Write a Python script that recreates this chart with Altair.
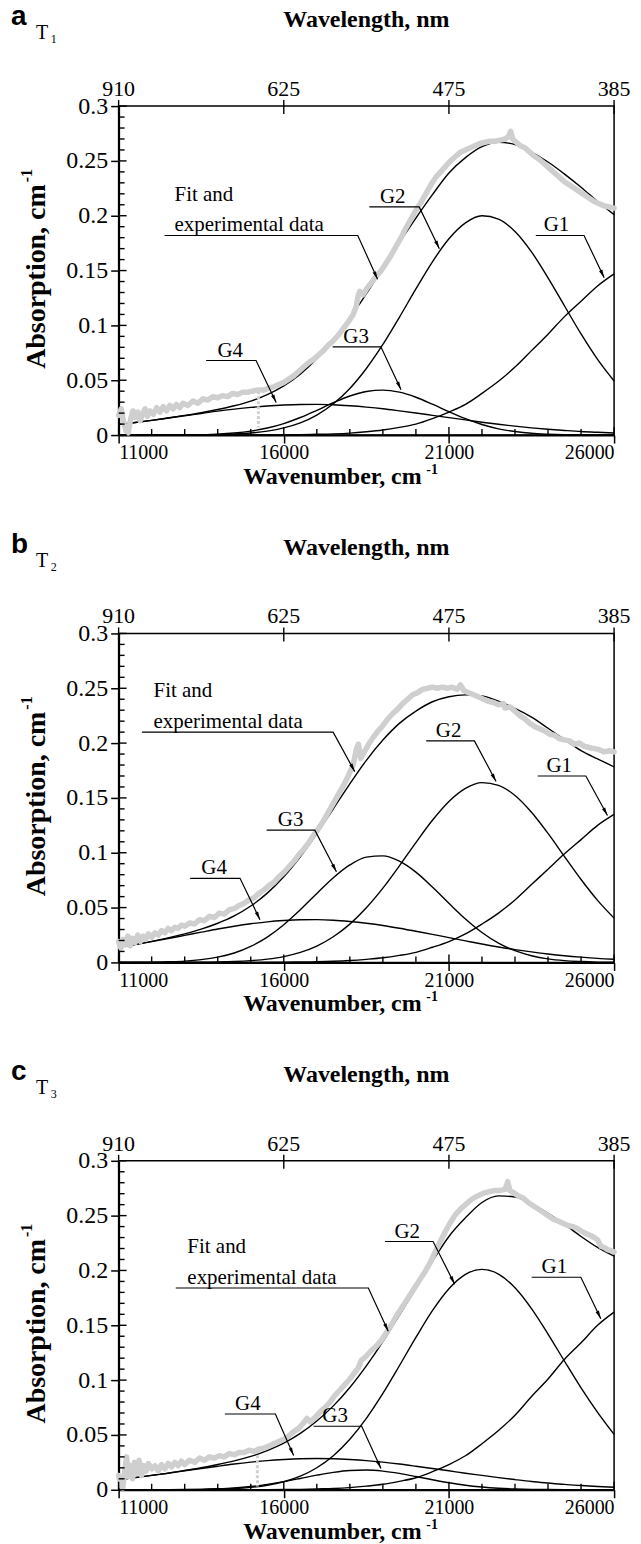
import math

import altair as alt
import pandas as pd

# Wavenumber grid (cm-1) on which the Gaussian components and the fitted envelope are tabulated
WAVENUMBER = [11000, 11500, 12000, 12500, 13000, 13500, 14000, 14500, 15000, 15500,
              16000, 16500, 17000, 17500, 18000, 18500, 19000, 19500, 20000, 20500,
              21000, 21500, 22000, 22500, 23000, 23500, 24000, 24500, 25000, 25500, 26000]

# ---------------- panel a : T1 ----------------
A_G1 = [0, 0, 0, 0, 0, 0, 0, 0, 0, .0001, .0002, .0004, .0007, .0011, .0018, .003,
        .0046, .007, .010, .015, .021, .028, .038, .049, .062, .077, .092, .108, .122, .136, .147]
A_G2 = [0, 0, 0, 0, .0001, .0002, .0005, .001, .0019, .0036, .0065, .0111, .0182, .0285,
        .0425, .0607, .0826, .1074, .1333, .158, .179, .1935, .200, .197, .1856, .167, .1434,
        .1177, .0922, .069, .0493]
A_G3 = [0, 0, 0, .0001, .0002, .0004, .0009, .0019, .0036, .0064, .0105, .016, .0226, .0295,
        .0356, .0397, .041, .0391, .0345, .0282, .0213, .0149, .0096, .0057, .0032, .0016,
        .0008, .0003, .0001, 0, 0]
A_G4 = [.0095, .0114, .0134, .0155, .0176, .0197, .0218, .0236, .0252, .0265, .0274, .0279,
        .028, .0276, .0267, .0255, .024, .0221, .0201, .018, .0159, .0138, .0117, .0098, .0081,
        .0066, .0053, .0042, .0032, .0025, .0019]
A_FIT = [.0095, .0114, .0134, .0156, .0179, .0204, .0233, .0267, .031, .0369, .0449, .0556,
         .0695, .0867, .1066, .1289, .1522, .1756, .1979, .2192, .239, .253, .263, .267, .265,
         .258, .249, .238, .226, .213, .201]
A_MEASURED = [
    (11000, .018), (11080, .024), (11150, .012), (11220, .004), (11290, .002), (11360, .014),
    (11430, .022), (11500, .016), (11580, .021), (11650, .013), (11720, .019), (11800, .024),
    (11870, .017), (11950, .022), (12050, .019), (12150, .025), (12250, .021), (12350, .026),
    (12450, .022), (12550, .027), (12650, .024), (12750, .028), (12850, .025), (12950, .029),
    (13100, .027), (13250, .031), (13400, .029), (13550, .033), (13700, .032), (13850, .035),
    (14000, .034), (14150, .036), (14300, .035), (14450, .038), (14600, .037), (14750, .039),
    (14900, .039), (15050, .040), (15200, .041), (15400, .041),
    (15550, .043), (15700, .044), (15850, .046), (16000, .048), (16150, .051), (16300, .054),
    (16450, .058), (16600, .062), (16750, .066), (16900, .069), (17050, .073), (17200, .077),
    (17350, .082), (17500, .086), (17650, .091), (17800, .097), (17950, .103), (18100, .110),
    (18200, .118), (18250, .127), (18300, .131), (18400, .128), (18500, .133), (18650, .139),
    (18800, .145), (18950, .150), (19100, .157), (19250, .164), (19400, .172), (19550, .180),
    (19700, .189), (19850, .197), (20000, .205), (20150, .212), (20300, .220), (20450, .228),
    (20600, .235), (20750, .240), (20900, .245), (21050, .250), (21200, .254), (21350, .258),
    (21500, .260), (21650, .262), (21800, .264), (21950, .266), (22100, .267), (22250, .268),
    (22400, .268), (22550, .269), (22700, .270), (22800, .272), (22870, .277), (22930, .270),
    (23000, .268), (23150, .264), (23300, .262), (23450, .258), (23600, .254), (23750, .251),
    (23900, .247), (24050, .243), (24200, .239), (24350, .235), (24500, .231), (24650, .228),
    (24800, .225), (24950, .222), (25100, .219), (25250, .216), (25400, .213), (25550, .211),
    (25700, .209), (25850, .208), (26000, .207)]
# isolated dropout in the recorded spectrum
A_DROPOUT = [(15230, .040), (15230, .007)]

# ---------------- panel b : T2 ----------------
B_G1 = [0, 0, 0, 0, 0, 0, 0, 0, 0, .0001, .0002, .0004, .0006, .001, .0017, .0028, .0042,
        .0064, .0092, .0138, .019, .026, .035, .045, .057, .071, .085, .099, .112, .125, .135]
B_G2 = [0, 0, 0, 0, .0001, .0002, .0004, .0008, .0016, .003, .0053, .0091, .0149, .0234,
        .0349, .0498, .0677, .0881, .1093, .1296, .1468, .1587, .164, .1615, .1522, .1369,
        .1176, .0965, .0756, .0566, .0404]
B_G3 = [0, .0001, .0002, .0006, .0012, .0025, .0048, .0086, .0146, .0231, .0344, .048, .0628,
        .0772, .0889, .096, .0972, .0923, .0823, .0687, .0539, .0396, .0273, .0176, .0107,
        .0061, .0032, .0016, .0008, .0003, .0001]
B_G4 = [.0139, .0163, .019, .0218, .0247, .0276, .0305, .033, .0352, .037, .0382, .0389, .039,
        .0385, .0373, .0357, .0337, .0312, .0284, .0256, .0226, .0197, .0168, .0141, .0117,
        .0096, .0077, .0061, .0048, .0037, .0029]
B_FIT = [.0139, .0164, .0192, .0224, .026, .0303, .0357, .0424, .0514, .0632, .0781, .0964,
         .1173, .1401, .1628, .1843, .2028, .218, .2292, .2377, .2423, .244, .2431, .2382,
         .2316, .2236, .2135, .2032, .1932, .1856, .1784]
B_MEASURED = [
    (11000, .019), (11070, .013), (11140, .021), (11210, .016), (11280, .024), (11350, .015),
    (11420, .022), (11500, .018), (11580, .025), (11660, .019), (11740, .024), (11820, .021),
    (11900, .026), (12000, .023), (12100, .027), (12200, .025), (12300, .029), (12400, .027),
    (12500, .031), (12600, .029), (12700, .032), (12800, .031), (12900, .034), (13000, .033),
    (13150, .036), (13300, .035), (13450, .039), (13600, .038), (13750, .042), (13900, .041),
    (14050, .045), (14200, .044), (14350, .048), (14500, .049), (14650, .052), (14800, .054),
    (14950, .057), (15100, .059), (15250, .063), (15400, .066), (15550, .070), (15700, .073),
    (15850, .078), (16000, .082), (16150, .087), (16300, .092), (16450, .098), (16600, .103),
    (16750, .109), (16900, .116), (17050, .122), (17200, .129), (17350, .137), (17500, .145),
    (17650, .153), (17800, .161), (17950, .170), (18100, .180), (18200, .195), (18260, .199),
    (18330, .186), (18400, .190), (18550, .198), (18700, .205), (18850, .211), (19000, .216),
    (19150, .222), (19300, .227), (19450, .231), (19600, .236), (19750, .240), (19900, .244),
    (20050, .246), (20200, .249), (20350, .250), (20500, .251), (20650, .250), (20800, .251),
    (20950, .250), (21100, .251), (21250, .249), (21350, .253), (21450, .248), (21600, .246),
    (21750, .244), (21900, .242), (22050, .240), (22200, .238), (22350, .237), (22500, .235),
    (22650, .236), (22700, .232), (22850, .233), (23000, .229), (23150, .225), (23300, .222),
    (23450, .218), (23600, .215), (23750, .213), (23900, .211), (24050, .208), (24200, .207),
    (24350, .204), (24500, .203), (24650, .202), (24800, .199), (24950, .200), (25100, .197),
    (25250, .196), (25400, .195), (25550, .194), (25700, .192), (25850, .193), (26000, .192)]
B_DROPOUT = []

# ---------------- panel c : T3 ----------------
C_G1 = [0, 0, 0, 0, 0, 0, 0, 0, 0, .0001, .0002, .0004, .0008, .0012, .002, .0033, .005,
        .0077, .011, .0165, .023, .031, .042, .054, .068, .085, .101, .119, .134, .150, .162]
C_G2 = [0, 0, 0, 0, .0001, .0003, .0006, .0011, .0022, .0041, .0073, .0124, .0201, .0311,
        .0461, .0651, .0878, .1131, .1389, .1633, .1833, .1964, .201, .1967, .1842, .1652,
        .1420, .1172, .0929, .0706, .0505]
C_G3 = [0, 0, 0, .0001, .0002, .0004, .0009, .0017, .003, .0049, .0074, .0103, .0133, .0159,
        .0176, .018, .017, .0149, .0121, .0091, .0064, .0041, .0025, .0014, .0007, .0003,
        .0002, .0001, 0, 0, 0]
C_G4 = [.0093, .0111, .0131, .0151, .0173, .0194, .0215, .0235, .0252, .0266, .0276, .0283,
        .0285, .0283, .0276, .0266, .0252, .0235, .0215, .0194, .0173, .0151, .0131, .0111,
        .0093, .0076, .0062, .0049, .0039, .003, .0023]
C_FIT = [.0093, .0111, .0131, .0152, .0176, .0201, .023, .0263, .0304, .0357, .0425, .0514,
         .0627, .0765, .0933, .113, .135, .1592, .1835, .2083, .231, .248, .262, .268, .267,
         .261, .252, .242, .231, .221, .213]
C_MEASURED = [
    (11000, .013), (11060, .005), (11120, .001), (11180, .016), (11240, .030), (11300, .012),
    (11360, .022), (11420, .010), (11480, .025), (11550, .015), (11620, .027), (11690, .013),
    (11760, .022), (11830, .017), (11900, .024), (12000, .019), (12100, .022), (12200, .017),
    (12300, .023), (12400, .019), (12500, .024), (12600, .021), (12700, .025), (12800, .022),
    (12900, .026), (13000, .023), (13150, .027), (13300, .025), (13450, .029), (13600, .027),
    (13750, .030), (13900, .029), (14050, .031), (14200, .030), (14350, .033), (14500, .032),
    (14650, .034), (14800, .034), (14950, .036), (15100, .035), (15170, .036),
    (15230, .037), (15400, .038), (15550, .040), (15700, .042), (15850, .044), (16000, .046),
    (16150, .049), (16300, .053), (16450, .056), (16600, .061), (16700, .065), (16800, .062),
    (16950, .066), (17100, .071), (17250, .075), (17400, .080), (17550, .086), (17700, .091),
    (17850, .096), (18000, .101), (18150, .107), (18250, .111), (18350, .118), (18500, .122),
    (18650, .127), (18800, .131), (18950, .136), (19100, .143), (19250, .150), (19400, .158),
    (19550, .165), (19700, .172), (19850, .179), (20000, .186), (20150, .193), (20300, .200),
    (20450, .208), (20600, .218), (20750, .227), (20900, .236), (21050, .244), (21200, .251),
    (21350, .256), (21500, .260), (21650, .264), (21800, .267), (21950, .269), (22100, .271),
    (22250, .272), (22400, .273), (22550, .273), (22700, .274), (22780, .281), (22840, .273),
    (22950, .271), (23100, .268), (23250, .266), (23400, .262), (23550, .259), (23700, .256),
    (23850, .253), (24000, .250), (24150, .247), (24300, .245), (24450, .243), (24600, .241),
    (24750, .240), (24900, .238), (25050, .235), (25200, .233), (25350, .231), (25500, .228),
    (25600, .222), (25700, .221), (25800, .219), (25900, .218), (26000, .217)]
C_DROPOUT = [(15200, .036), (15200, .003)]

# Axis ticks and labels
X_TICKS = [11000, 16000, 21000, 26000]
WAVELENGTH_LABELS = ["910", "625", "475", "385"]
X_MINOR = [12000, 13000, 14000, 15000, 17000, 18000, 19000, 20000, 22000, 23000, 24000, 25000]
Y_TICKS = [0, 0.05, 0.1, 0.15, 0.2, 0.25, 0.3]
Y_MINOR = [0.01, 0.02, 0.03, 0.04, 0.06, 0.07, 0.08, 0.09, 0.11, 0.12, 0.13, 0.14,
           0.16, 0.17, 0.18, 0.19, 0.21, 0.22, 0.23, 0.24, 0.26, 0.27, 0.28, 0.29]

# Call-outs: (label, label centre along wavenumber, leader polyline ending at the arrow tip)
A_CALLOUTS = [
    ("G1", 24256, [(23630, .182), (25090, .182), (25700, .1435)]),
    ("G2", 19300, [(18590, .208), (20100, .208), (20710, .170)]),
    ("G3", 18190, [(17480, .0805), (18940, .0805), (19550, .0414)]),
    ("G4", 14377, [(13650, .068), (15160, .068), (15770, .0296)]),
]
A_FIT_CALLOUT = (12694, [(12390, .182), (18240, .182), (18840, .142)])

B_CALLOUTS = [
    ("G1", 24340, [(23685, .170), (25145, .170), (25800, .134)]),
    ("G2", 20990, [(20312, .202), (21772, .202), (22427, .165)]),
    ("G3", 16205, [(15480, .1206), (16940, .1206), (17594, .0826)]),
    ("G4", 13890, [(13165, .0767), (14675, .0767), (15279, .039)]),
]
B_FIT_CALLOUT = (12057, [(11705, .210), (17494, .210), (18148, .174)])

C_CALLOUTS = [
    ("G1", 24190, [(23506, .1938), (24994, .1938), (25598, .156)]),
    ("G2", 19736, [(19063, .2264), (20520, .2264), (21174, .1875)]),
    ("G3", 17555, [(16901, .0579), (18359, .0579), (18942, .0193)]),
    ("G4", 14911, [(14217, .0691), (15745, .0691), (16298, .0312)]),
]
C_FIT_CALLOUT = (13081, [(12729, .184), (18560, .184), (19163, .1445)])

# ---------------- drawing ----------------
W, H = 497, 330
LEFT, TOP, RIGHT, BOTTOM = 118, 100, 26, 56
X_DOMAIN = [11000, 26000]
Y_DOMAIN = [0, 0.3]
SERIF = "Liberation Serif, Times New Roman, Times, Nimbus Roman, DejaVu Serif, serif"
SANS = "Liberation Sans, Arial, Helvetica, DejaVu Sans, sans-serif"
ARROW_HEAD = "M0,0L0.28,1.25L-0.28,1.25Z"
GREY = "#cfcfcf"

# placement (px, relative to the plot frame) of the text around each panel
LETTER_Y, TEMP_Y, TOP_TITLE_Y, TOP_LABEL_Y = -81, -67, -86, -17
BOTTOM_TITLE_Y, BOTTOM_SUP_Y = 42, 35
X_TITLE_LEFT = 125
Y_TITLE_X, Y_TITLE_MID = -82, 171


def x_enc(field="wn"):
    return alt.X(f"{field}:Q", scale=alt.Scale(domain=X_DOMAIN, nice=False, zero=False),
                 axis=alt.Axis(values=X_TICKS, format="d", title=None))


def y_enc(field="value"):
    return alt.Y(f"{field}:Q", scale=alt.Scale(domain=Y_DOMAIN, nice=False, zero=False),
                 axis=alt.Axis(values=Y_TICKS, format="~g", title=None))


def heading(p_from, p_to):
    """Screen-space direction of a leader's last segment, in degrees clockwise from up."""
    dx = (p_to[0] - p_from[0]) / (X_DOMAIN[1] - X_DOMAIN[0]) * W
    dy = -(p_to[1] - p_from[1]) / (Y_DOMAIN[1] - Y_DOMAIN[0]) * H
    return math.degrees(math.atan2(dx, -dy)) % 360


def one_row(text):
    return pd.DataFrame([{"t": text}])


def panel(key, digit, comps, fit, measured, dropout, callouts, fit_callout,
          first=False, last=False):
    comp_df = pd.DataFrame([
        {"curve": name, "wn": wn, "value": v}
        for name, vals in zip(("G1", "G2", "G3", "G4"), comps)
        for wn, v in zip(WAVENUMBER, vals)])
    fit_df = pd.DataFrame({"wn": WAVENUMBER, "value": fit})
    meas_df = pd.DataFrame(measured, columns=["wn", "value"])

    all_callouts = list(callouts) + [("fit", fit_callout[0], fit_callout[1])]
    leader_df = pd.DataFrame([
        {"label": lab, "order": i, "wn": wn, "value": v}
        for lab, _, pts in all_callouts for i, (wn, v) in enumerate(pts)])
    arrow_df = pd.DataFrame([
        {"wn": pts[-1][0], "value": pts[-1][1], "angle": heading(pts[-2], pts[-1])}
        for _, _, pts in all_callouts])
    label_df = pd.DataFrame([{"t": lab, "wn": tx, "value": pts[0][1]} for lab, tx, pts in callouts])
    fit_lab_df = pd.DataFrame([{"wn": fit_callout[0], "value": fit_callout[1][0][1]}])

    layers = []

    components = alt.Chart(comp_df).mark_line(
        color="black", strokeWidth=1.4, interpolate="monotone").encode(
        x=x_enc(), y=y_enc(), detail="curve:N")
    layers.append(components)

    envelope = alt.Chart(fit_df).mark_line(
        color="black", strokeWidth=1.4, interpolate="monotone").encode(x=x_enc(), y=y_enc())
    layers.append(envelope)

    if dropout:
        drop_df = pd.DataFrame(dropout, columns=["wn", "value"])
        layers.append(alt.Chart(drop_df).mark_line(
            color=GREY, strokeWidth=3, strokeDash=[3, 2]).encode(x=x_enc(), y=y_enc()))

    experiment = alt.Chart(meas_df).mark_line(
        color=GREY, strokeWidth=5.5, strokeJoin="round", strokeCap="round").encode(
        x=x_enc(), y=y_enc())
    layers.append(experiment)

    leaders = alt.Chart(leader_df).mark_line(color="black", strokeWidth=1.2).encode(
        x=x_enc(), y=y_enc(), detail="label:N", order="order:Q")
    heads = alt.Chart(arrow_df).mark_point(
        shape=ARROW_HEAD, filled=True, color="black", opacity=1, size=170).encode(
        x=x_enc(), y=y_enc(), angle=alt.Angle("angle:Q", scale=None))
    labels = alt.Chart(label_df).mark_text(
        font=SERIF, fontSize=21, align="center", baseline="alphabetic", dy=-4,
        color="black").encode(x=x_enc(), y=y_enc(), text="t:N")
    fit_line1 = alt.Chart(fit_lab_df).mark_text(
        font=SERIF, fontSize=21, align="left", baseline="alphabetic", dy=-35,
        color="black", text="Fit and").encode(x=x_enc(), y=y_enc())
    fit_line2 = alt.Chart(fit_lab_df).mark_text(
        font=SERIF, fontSize=21, align="left", baseline="alphabetic", dy=-4,
        color="black", text="experimental data").encode(x=x_enc(), y=y_enc())
    layers += [leaders, heads, labels, fit_line1, fit_line2]

    # tick marks drawn inside the frame, and the wavelength scale along the top edge
    major_x = pd.DataFrame({"wn": X_TICKS, "lab": WAVELENGTH_LABELS})
    minor_x = pd.DataFrame({"wn": X_MINOR})
    major_y = pd.DataFrame({"value": Y_TICKS})
    minor_y = pd.DataFrame({"value": Y_MINOR})
    tick_style = dict(color="black", strokeWidth=1.4)
    layers += [
        alt.Chart(major_x).mark_rule(**tick_style).encode(
            x=x_enc(), y=alt.value(-6), y2=alt.value(8)),
        alt.Chart(major_x).mark_rule(**tick_style).encode(
            x=x_enc(), y=alt.value(H - 8), y2=alt.value(H)),
        alt.Chart(minor_x).mark_rule(**tick_style).encode(
            x=x_enc(), y=alt.value(H - 6), y2=alt.value(H)),
        alt.Chart(major_y).mark_rule(**tick_style).encode(
            y=y_enc(), x=alt.value(0), x2=alt.value(8)),
        alt.Chart(minor_y).mark_rule(**tick_style).encode(
            y=y_enc(), x=alt.value(0), x2=alt.value(6)),
        alt.Chart(major_x).mark_text(
            font=SERIF, fontSize=22, baseline="middle", align="center", color="black").encode(
            x=x_enc(), y=alt.value(TOP_LABEL_Y), text="lab:N"),
    ]

    # titles and panel tag
    bold_serif = dict(font=SERIF, fontWeight="bold", color="black")
    x_title_size = 24
    x_title_width = 7.61 * x_title_size
    y_title_size = 28
    y_title_half = 6.61 * y_title_size / 2
    layers += [
        alt.Chart(one_row("Wavelength, nm")).mark_text(
            fontSize=24, align="center", baseline="middle", **bold_serif).encode(
            x=alt.value(W / 2), y=alt.value(TOP_TITLE_Y), text="t:N"),
        alt.Chart(one_row("Wavenumber, cm")).mark_text(
            fontSize=x_title_size, align="left", baseline="middle", **bold_serif).encode(
            x=alt.value(X_TITLE_LEFT), y=alt.value(H + BOTTOM_TITLE_Y), text="t:N"),
        alt.Chart(one_row("-1")).mark_text(
            fontSize=14, align="left", baseline="middle", **bold_serif).encode(
            x=alt.value(X_TITLE_LEFT + x_title_width + 1),
            y=alt.value(H + BOTTOM_SUP_Y), text="t:N"),
        alt.Chart(one_row("Absorption, cm")).mark_text(
            fontSize=y_title_size, align="center", baseline="middle", angle=270,
            **bold_serif).encode(
            x=alt.value(Y_TITLE_X), y=alt.value(Y_TITLE_MID), text="t:N"),
        alt.Chart(one_row("-1")).mark_text(
            fontSize=16, align="left", baseline="middle", angle=270, **bold_serif).encode(
            x=alt.value(Y_TITLE_X - 10), y=alt.value(Y_TITLE_MID - y_title_half - 2),
            text="t:N"),
        alt.Chart(one_row(key)).mark_text(
            font=SANS, fontWeight="bold", fontSize=28, align="left", baseline="alphabetic",
            color="black").encode(x=alt.value(-108), y=alt.value(LETTER_Y), text="t:N"),
        alt.Chart(one_row("T")).mark_text(
            font=SERIF, fontSize=20, align="left", baseline="alphabetic", color="black").encode(
            x=alt.value(-83), y=alt.value(TEMP_Y), text="t:N"),
        alt.Chart(one_row(digit)).mark_text(
            font=SERIF, fontSize=12, align="left", baseline="alphabetic", color="black").encode(
            x=alt.value(-68), y=alt.value(TEMP_Y + 4), text="t:N"),
    ]

    # invisible rules pinning the outer edges of the page
    if first:
        layers.append(alt.Chart(one_row("")).mark_rule(strokeOpacity=0).encode(
            x=alt.value(-LEFT), x2=alt.value(W + RIGHT), y=alt.value(-TOP)))
    if last:
        layers.append(alt.Chart(one_row("")).mark_rule(strokeOpacity=0).encode(
            x=alt.value(-LEFT), x2=alt.value(W + RIGHT), y=alt.value(H + BOTTOM)))

    return alt.layer(*layers).properties(width=W, height=H)


panel_a = panel("a", "1", (A_G1, A_G2, A_G3, A_G4), A_FIT, A_MEASURED, A_DROPOUT,
                A_CALLOUTS, A_FIT_CALLOUT, first=True)
panel_b = panel("b", "2", (B_G1, B_G2, B_G3, B_G4), B_FIT, B_MEASURED, B_DROPOUT,
                B_CALLOUTS, B_FIT_CALLOUT)
panel_c = panel("c", "3", (C_G1, C_G2, C_G3, C_G4), C_FIT, C_MEASURED, C_DROPOUT,
                C_CALLOUTS, C_FIT_CALLOUT, last=True)

chart = (
    alt.vconcat(panel_a, panel_b, panel_c, spacing=199, bounds="flush")
    .properties(padding=0, background="white")
    .configure_view(stroke="black", strokeWidth=1.5)
    .configure_axis(domainColor="black", domainWidth=2, tickColor="black", tickWidth=1.5,
                    tickSize=8, labelFont=SERIF, labelColor="black", grid=False)
    .configure_axisBottom(labelPadding=0, labelFontSize=20)
    .configure_axisLeft(labelPadding=3, labelFontSize=24)
)

chart.save("out.html", embed_options={"renderer": "svg", "actions": False})
